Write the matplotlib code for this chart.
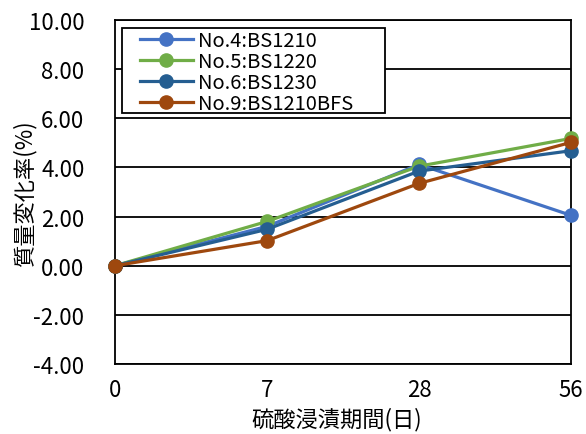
import matplotlib
matplotlib.use("Agg")
import matplotlib.pyplot as plt
from matplotlib.patches import Rectangle

plt.rcParams['font.family'] = ['Noto Sans CJK JP', 'DejaVu Sans']
plt.rcParams['ytick.major.pad'] = 22
plt.rcParams['xtick.major.pad'] = 10

days = ["0", "7", "28", "56"]
series_labels = ["No.4:BS1210", "No.5:BS1220", "No.6:BS1230", "No.9:BS1210BFS"]
no4 = [0.00, 1.60, 4.12, 2.05]
no5 = [0.00, 1.80, 4.05, 5.18]
no6 = [0.00, 1.48, 3.85, 4.68]
no9 = [0.00, 1.02, 3.35, 5.02]
colors = ["#4472C4", "#70AD47", "#255E91", "#9E480E"]
y_ticks = [-4, -2, 0, 2, 4, 6, 8, 10]

W, H = 586, 435
fig = plt.figure(figsize=(W / 100, H / 100), dpi=100)
ax = fig.add_axes([115 / W, 1 - 365 / H, 456 / W, 344 / H])

x = list(range(len(days)))
for vals, lab, c in zip([no4, no5, no6, no9], series_labels, colors):
    ax.plot(x, vals, color=c, lw=2.3, marker='o', ms=9.5, label=lab,
            clip_on=False, zorder=3)

ax.set_xlim(0, len(days) - 1)
ax.set_ylim(-4, 10)
ax.set_xticks(x)
ax.set_xticklabels(days)
ax.set_yticks(y_ticks)
ax.set_yticklabels([f"{v:.2f}" for v in y_ticks])
ax.tick_params(axis='both', length=0, labelsize=16)
ax.yaxis.grid(True, color='black', lw=1.3)
ax.set_axisbelow(True)
for s in ax.spines.values():
    s.set_color('black')
    s.set_linewidth(1.3)

fig.text(337 / W, 1 - 420 / H, "硫酸浸漬期間(日)", fontsize=16,
         ha='center', va='center')
fig.text(25 / W, 1 - 193 / H, "質量変化率(%)", fontsize=16,
         ha='center', va='center', rotation=90)

# legend box with white fill, entries placed inside it
box = Rectangle((122 / W, 1 - 114 / H), 263 / W, 85 / H,
                transform=fig.transFigure, facecolor='white',
                edgecolor='black', lw=1.3, zorder=4, clip_on=False)
ax.add_artist(box)
leg = ax.legend(loc='upper left', bbox_to_anchor=(25 / 456, 1 - 10 / 344),
                fontsize=14.5, frameon=False, borderpad=0,
                labelspacing=0.0, handlelength=2.63,
                handletextpad=0.25, borderaxespad=0)
leg.set_zorder(5)

fig.savefig("out.png", dpi=100, facecolor='white')
